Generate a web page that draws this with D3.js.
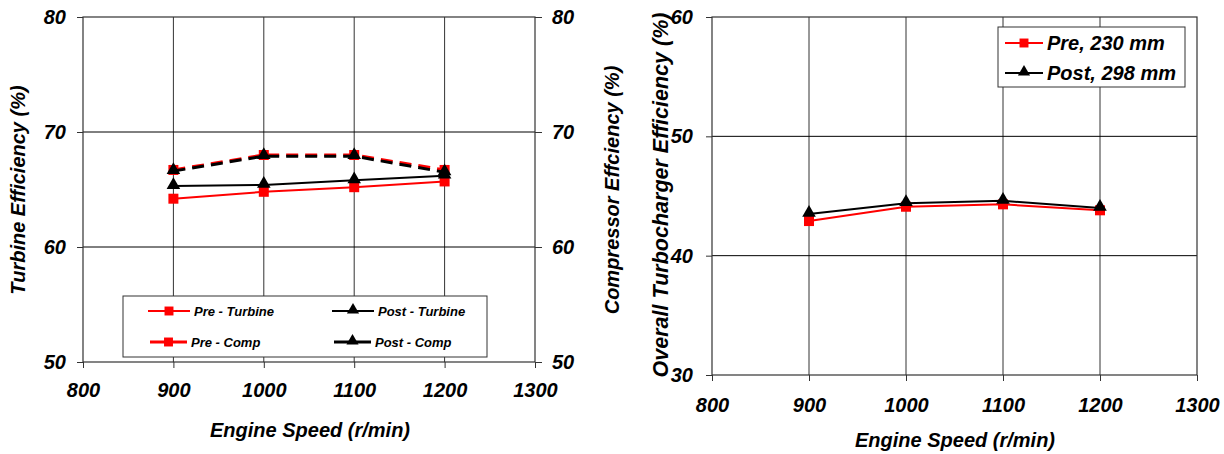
<!DOCTYPE html>
<html>
<head>
<meta charset="utf-8">
<script src="https://cdn.jsdelivr.net/npm/d3@7"></script>
<style>
body { margin: 0; background: #fff; }
text { font-family: "Liberation Sans", Arial, sans-serif; font-weight: bold; font-style: italic; }
</style>
</head>
<body>
<svg id="chart" width="1224" height="454"></svg>
<script>
// data
var speeds = [900, 1000, 1100, 1200];
var xTicks = [800, 900, 1000, 1100, 1200, 1300];

var preTurbine = [64.2, 64.8, 65.2, 65.7];
var postTurbine = [65.3, 65.4, 65.8, 66.2];
var preComp = [66.7, 68.0, 68.0, 66.7];
var postComp = [66.6, 67.9, 67.9, 66.5];

var preOverall = [42.9, 44.1, 44.3, 43.8];
var postOverall = [43.5, 44.4, 44.6, 44.0];

var leftTicks = [50, 60, 70, 80];
var rightTicks = [30, 40, 50, 60];

var svg = d3.select("#chart");

function drawFrame(g, x, y, yTicks, w, h, xPad, yPad) {
	// grid
	g.selectAll(".vg").data(xTicks.slice(1, -1)).enter().append("line")
		.attr("x1", function(d) { return x(d); }).attr("x2", function(d) { return x(d); })
		.attr("y1", 0).attr("y2", h)
		.attr("stroke", "#333").attr("stroke-width", 1);
	g.selectAll(".hg").data(yTicks.slice(1, -1)).enter().append("line")
		.attr("x1", 0).attr("x2", w)
		.attr("y1", function(d) { return y(d); }).attr("y2", function(d) { return y(d); })
		.attr("stroke", "#000").attr("stroke-width", 1);
	g.append("rect").attr("x", 0).attr("y", 0).attr("width", w).attr("height", h)
		.attr("fill", "none").attr("stroke", "#333").attr("stroke-width", 1.2);

	var xAxis = g.append("g").attr("transform", "translate(0," + h + ")")
		.call(d3.axisBottom(x).tickValues(xTicks).tickSize(6).tickPadding(xPad).tickFormat(d3.format("d")));
	var yAxis = g.append("g")
		.call(d3.axisLeft(y).tickValues(yTicks).tickSize(6).tickPadding(yPad).tickFormat(d3.format("d")));
	[xAxis, yAxis].forEach(function(a) {
		a.select(".domain").remove();
		a.selectAll("line").attr("stroke", "#333");
		a.selectAll("text").attr("fill", "#000").style("font-size", "20px");
	});
}

function drawSeries(g, x, y, vals, color, marker, dashed) {
	var pts = speeds.map(function(s, i) { return [x(s), y(vals[i])]; });
	g.append("path").datum(pts)
		.attr("d", d3.line())
		.attr("fill", "none")
		.attr("stroke", color)
		.attr("stroke-width", dashed ? 3 : 2)
		.attr("stroke-dasharray", dashed ? "12,7" : null);
	var sym = d3.symbol().type(marker == "square" ? d3.symbolSquare : d3.symbolTriangle)
		.size(marker == "square" ? 100 : 80);
	g.selectAll(null).data(pts).enter().append("path")
		.attr("d", sym)
		.attr("transform", function(d) { return "translate(" + d[0] + "," + (d[1] + (marker == "square" ? 0 : -1)) + ")"; })
		.attr("fill", color);
}

function legendItem(g, lx, ly, len, color, marker, dashed, label, fs) {
	g.append("line").attr("x1", lx).attr("x2", lx + len).attr("y1", ly).attr("y2", ly)
		.attr("stroke", color).attr("stroke-width", dashed ? 3 : 2);
	var sym = d3.symbol().type(marker == "square" ? d3.symbolSquare : d3.symbolTriangle)
		.size(marker == "square" ? 80 : 64);
	g.append("path").attr("d", sym)
		.attr("transform", "translate(" + (lx + len / 2) + "," + (ly + (marker == "square" ? 0 : -1)) + ")")
		.attr("fill", color);
	g.append("text").attr("x", lx + len + 4).attr("y", ly).attr("dy", "0.35em")
		.style("font-size", fs + "px").text(label);
}

// ---------- left chart ----------
var L = { left: 83, top: 17, w: 452, h: 345 };
var gL = svg.append("g").attr("transform", "translate(" + L.left + "," + L.top + ")");
var xL = d3.scaleLinear().domain([800, 1300]).range([0, L.w]);
var yL = d3.scaleLinear().domain([50, 80]).range([L.h, 0]);
drawFrame(gL, xL, yL, leftTicks, L.w, L.h, 15, 11);

// right axis (compressor)
var yR = d3.scaleLinear().domain([50, 80]).range([L.h, 0]);
var rAxis = gL.append("g").attr("transform", "translate(" + L.w + ",0)")
	.call(d3.axisRight(yR).tickValues(leftTicks).tickSize(7).tickPadding(10).tickFormat(d3.format("d")));
rAxis.select(".domain").remove();
rAxis.selectAll("line").attr("stroke", "#333");
rAxis.selectAll("text").attr("fill", "#000").style("font-size", "20px");

drawSeries(gL, xL, yL, preTurbine, "#ff0000", "square", false);
drawSeries(gL, xL, yL, postTurbine, "#000", "triangle", false);
drawSeries(gL, xL, yR, preComp, "#ff0000", "square", true);
drawSeries(gL, xL, yR, postComp, "#000", "triangle", true);

// legend left
var legL = svg.append("g");
legL.append("rect").attr("x", 123).attr("y", 296).attr("width", 364).attr("height", 61)
	.attr("fill", "#fff").attr("stroke", "#333").attr("stroke-width", 1);
legendItem(legL, 148, 311, 42, "#ff0000", "square", false, "Pre - Turbine", 13);
legendItem(legL, 332, 311, 42, "#000", "triangle", false, "Post - Turbine", 13);
legendItem(legL, 150, 342, 37, "#ff0000", "square", true, "Pre - Comp", 13);
legendItem(legL, 334, 342, 37, "#000", "triangle", true, "Post - Comp", 13);

svg.append("text").attr("transform", "translate(25,190) rotate(-90)")
	.attr("text-anchor", "middle").style("font-size", "20px").text("Turbine Efficiency (%)");
svg.append("text").attr("x", 310).attr("y", 437)
	.attr("text-anchor", "middle").style("font-size", "20px").text("Engine Speed (r/min)");
svg.append("text").attr("transform", "translate(619,190) rotate(-90)")
	.attr("text-anchor", "middle").style("font-size", "20px").text("Compressor Effciency (%)");

// ---------- right chart ----------
var R = { left: 712, top: 17, w: 485, h: 358 };
var gR = svg.append("g").attr("transform", "translate(" + R.left + "," + R.top + ")");
var xO = d3.scaleLinear().domain([800, 1300]).range([0, R.w]);
var yO = d3.scaleLinear().domain([30, 60]).range([R.h, 0]);
drawFrame(gR, xO, yO, rightTicks, R.w, R.h, 17, 13);

drawSeries(gR, xO, yO, preOverall, "#ff0000", "square", false);
drawSeries(gR, xO, yO, postOverall, "#000", "triangle", false);

var legR = svg.append("g");
legR.append("rect").attr("x", 998).attr("y", 27).attr("width", 187).attr("height", 60)
	.attr("fill", "#fff").attr("stroke", "#333").attr("stroke-width", 1);
legendItem(legR, 1005, 43, 38, "#ff0000", "square", false, "Pre, 230 mm", 20);
legendItem(legR, 1005, 73, 38, "#000", "triangle", false, "Post, 298 mm", 20);

svg.append("text").attr("transform", "translate(668,195) rotate(-90)")
	.attr("text-anchor", "middle").style("font-size", "21.5px").text("Overall Turbocharger Efficiency (%)");
svg.append("text").attr("x", 955).attr("y", 447)
	.attr("text-anchor", "middle").style("font-size", "20px").text("Engine Speed (r/min)");
</script>
</body>
</html>
